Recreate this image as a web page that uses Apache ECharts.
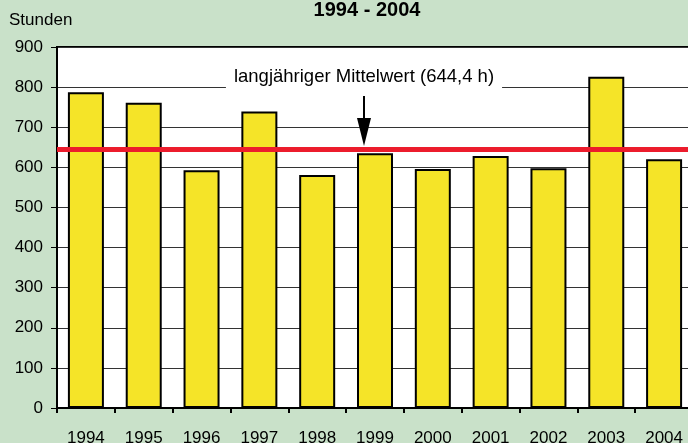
<!DOCTYPE html>
<html>
<head>
<meta charset="utf-8">
<script src="https://cdn.jsdelivr.net/npm/echarts@6/dist/echarts.min.js"></script>
<style>
  html, body { margin: 0; padding: 0; background: #c9e1c9; }
  #chart { width: 688px; height: 443px; }
</style>
</head>
<body>
<div id="chart"></div>
<script>
'use strict';

const years = ['1994', '1995', '1996', '1997', '1998', '1999', '2000', '2001', '2002', '2003', '2004'];
const hours = [787, 761, 593, 739, 581, 635, 596, 628, 598, 826, 620];
const meanValue = 644.4;
const meanLabel = 'langjähriger Mittelwert (644,4 h)';
const unitLabel = 'Stunden';

const font = '"Liberation Sans", Arial, sans-serif';

function makeChart() {
  const option = {
    animation: false,
    backgroundColor: '#c9e1c9',
    textStyle: { fontFamily: font },
    title: {
      text: '1994 - 2004',
      left: 362,
      top: -5,
      textAlign: 'center',
      textStyle: { fontFamily: font, fontSize: 20, fontWeight: 'bold', color: '#000' }
    },
    grid: {
      left: 57,
      top: 47,
      width: 636,
      height: 361,
      outerBoundsMode: 'none',
      containLabel: false,
      show: true,
      backgroundColor: '#fff',
      borderColor: '#000',
      borderWidth: 2
    },
    xAxis: {
      type: 'category',
      data: years,
      boundaryGap: true,
      axisLine: { show: true, lineStyle: { color: '#000', width: 2 } },
      axisTick: { show: true, interval: 0, length: 5, lineStyle: { color: '#000', width: 2 } },
      axisLabel: { interval: 0, margin: 22, color: '#000', fontSize: 17, fontFamily: font }
    },
    yAxis: {
      type: 'value',
      min: 0,
      max: 900,
      interval: 100,
      axisLine: { show: true, lineStyle: { color: '#000', width: 2 } },
      axisTick: { show: true, length: 6, lineStyle: { color: '#000', width: 1 } },
      axisLabel: { margin: 14, color: '#000', fontSize: 17, fontFamily: font },
      splitLine: { show: true, lineStyle: { color: '#333', width: 1 } }
    },
    series: [{
      type: 'bar',
      data: hours,
      barWidth: 36,
      itemStyle: { color: '#f5e428', borderColor: '#000', borderWidth: 2 },
      markLine: {
        silent: true,
        symbol: 'none',
        label: { show: false },
        lineStyle: { color: '#ec1c2c', width: 5, type: 'solid' },
        data: [{ yAxis: meanValue }]
      }
    }],
    graphic: [
      {
        type: 'text',
        x: 9,
        y: 20,
        style: {
          text: unitLabel,
          fill: '#000',
          font: '17px ' + font,
          textAlign: 'left',
          textVerticalAlign: 'middle'
        }
      },
      {
        type: 'text',
        x: 364,
        y: 77,
        z: 100,
        style: {
          text: meanLabel,
          fill: '#000',
          font: '18.5px ' + font,
          textAlign: 'center',
          textVerticalAlign: 'middle',
          backgroundColor: '#fff',
          padding: [3, 8]
        }
      },
      {
        type: 'line',
        z: 100,
        shape: { x1: 364, y1: 96, x2: 364, y2: 122 },
        style: { stroke: '#000', lineWidth: 2 }
      },
      {
        type: 'polygon',
        z: 100,
        shape: { points: [[357, 118], [371, 118], [364, 146]] },
        style: { fill: '#000' }
      }
    ]
  };
  const chart = echarts.init(document.getElementById('chart'));
  chart.setOption(option);
}

makeChart();
</script>
</body>
</html>
